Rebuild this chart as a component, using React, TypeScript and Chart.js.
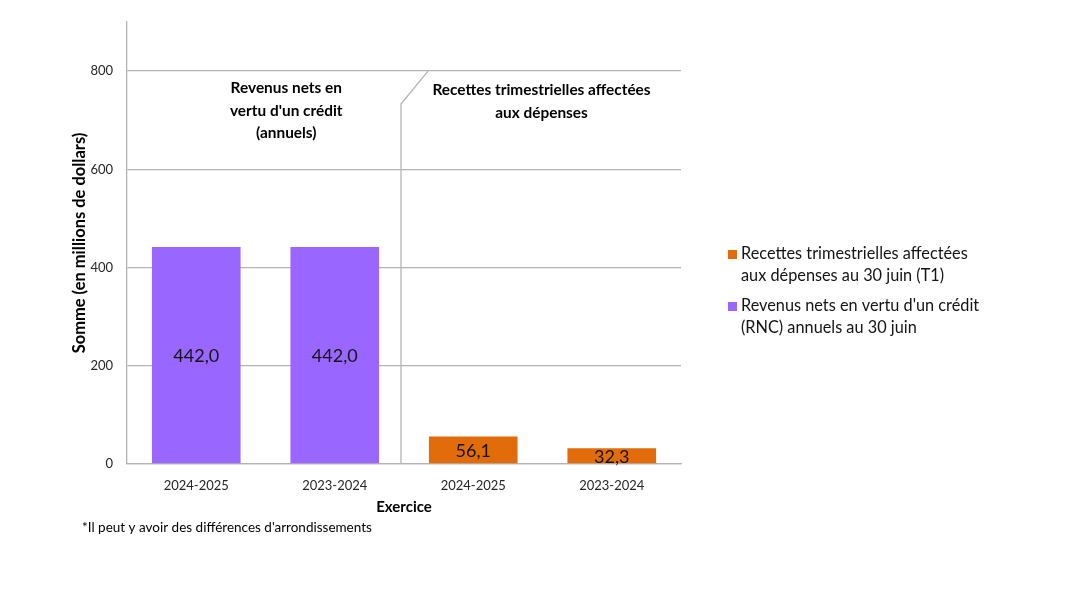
import React, { useEffect, useRef } from "react";
import { Chart, registerables } from "chart.js";

Chart.register(...registerables);

const categories = ["2024-2025", "2023-2024", "2024-2025", "2023-2024"];
const rncValues: (number | null)[] = [442.0, 442.0, null, null];
const recettesValues: (number | null)[] = [null, null, 56.1, 32.3];
const yMax = 900;
const yStep = 200;
const yLabelMax = 800;

const rncLabel = "Revenus nets en vertu d'un crédit (RNC) annuels au 30 juin";
const recettesLabel = "Recettes trimestrielles affectées aux dépenses au 30 juin (T1)";
const legendLines: string[][] = [
  ["Recettes trimestrielles affectées", "aux dépenses au 30 juin (T1)"],
  ["Revenus nets en vertu d'un crédit", "(RNC) annuels au 30 juin"],
];
const leftNote = ["Revenus nets en", "vertu d'un crédit", "(annuels)"];
const rightNote = ["Recettes trimestrielles affectées", "aux dépenses"];
const footnote = "*Il peut y avoir des différences d'arrondissements";

const PURPLE = "#9966ff";
const ORANGE = "#e36c0a";
const GRID = "#b4b4b4";
const FONT = "Lato, 'Open Sans', sans-serif";

const fmt = (v: number) => v.toFixed(1).replace(".", ",");

const overlay = {
  id: "overlay",
  afterDatasetsDraw(chart: any) {
    const ctx = chart.ctx;
    ctx.save();
    ctx.font = `18px ${FONT}`;
    ctx.fillStyle = "#141414";
    ctx.textAlign = "center";
    ctx.textBaseline = "middle";
    chart.data.datasets.forEach((ds: any, di: number) => {
      const meta = chart.getDatasetMeta(di);
      meta.data.forEach((bar: any, i: number) => {
        const v = ds.data[i];
        if (v == null) return;
        ctx.fillText(fmt(v), bar.x, (bar.y + bar.base) / 2 + 1);
      });
    });
    ctx.restore();
  },
  afterDraw(chart: any) {
    const ctx = chart.ctx;
    const x = chart.scales.x;
    const y = chart.scales.y;
    const area = chart.chartArea;
    ctx.save();
    // divider line
    const divX = (x.getPixelForValue(1) + x.getPixelForValue(2)) / 2 - 3;
    ctx.strokeStyle = GRID;
    ctx.lineWidth = 1.3;
    ctx.beginPath();
    ctx.moveTo(divX, y.getPixelForValue(0));
    ctx.lineTo(divX, y.getPixelForValue(733));
    ctx.lineTo(divX + 27, y.getPixelForValue(800));
    ctx.stroke();

    // annotations
    ctx.fillStyle = "#000";
    ctx.textAlign = "center";
    ctx.textBaseline = "middle";
    ctx.font = `bold 15.4px ${FONT}`;
    const leftCx = x.getPixelForValue(0) + (x.getPixelForValue(1) - x.getPixelForValue(0)) * 0.65;
    leftNote.forEach((t, i) => ctx.fillText(t, leftCx, y.getPixelForValue(800) + 17 + i * 22.5));
    const rightCx = (x.getPixelForValue(2) + x.getPixelForValue(3)) / 2 - 1;
    rightNote.forEach((t, i) => ctx.fillText(t, rightCx, y.getPixelForValue(800) + 19 + i * 22.5));

    // legend
    const colors = [ORANGE, PURPLE];
    ctx.textAlign = "left";
    ctx.font = `16.3px ${FONT}`;
    const lx = area.right + 47;
    const tops = [254, 306];
    legendLines.forEach((lines, k) => {
      ctx.fillStyle = colors[k];
      ctx.fillRect(lx, tops[k] - 4, 9, 9);
      ctx.fillStyle = "#141414";
      lines.forEach((t, i) => ctx.fillText(t, lx + 13, tops[k] + i * 22));
    });

    // footnote
    ctx.font = `13.5px ${FONT}`;
    ctx.fillStyle = "#000";
    ctx.fillText(footnote, 82, 528);
    ctx.restore();
  },
};

export default function App() {
  const ref = useRef<HTMLCanvasElement | null>(null);
  useEffect(() => {
    if (!ref.current) return;
    const chart = new Chart(ref.current, {
      type: "bar",
      data: {
        labels: categories,
        datasets: [
          { label: recettesLabel, data: recettesValues as any, backgroundColor: ORANGE, borderWidth: 0, barPercentage: 0.8, categoryPercentage: 0.8 },
          { label: rncLabel, data: rncValues as any, backgroundColor: PURPLE, borderWidth: 0, barPercentage: 0.8, categoryPercentage: 0.8 },
        ],
      },
      options: {
        responsive: false,
        animation: false,
        layout: { padding: { left: 0, right: 399, top: 22, bottom: 0 } },
        plugins: { legend: { display: false }, tooltip: { enabled: false } },
        scales: {
          x: {
            stacked: true,
            grid: { display: false, drawTicks: false },
            border: { display: true, color: GRID, width: 1.3 },
            ticks: { color: "#262626", font: { family: FONT, size: 13 }, padding: 14 },
            title: {
              display: true,
              text: "Exercice",
              color: "#000",
              font: { family: FONT, size: 15, weight: "bold" },
              padding: { top: 0, bottom: 95 },
            },
            afterFit: (s: any) => {
              s.height = 147;
            },
          },
          y: {
            stacked: true,
            min: 0,
            max: yMax,
            grid: { color: GRID, lineWidth: 1.3, drawTicks: false },
            border: { display: true, color: GRID, width: 1.3 },
            ticks: { stepSize: yStep, color: "#262626", font: { family: FONT, size: 13 }, padding: 14 },
            afterBuildTicks: (s: any) => {
              s.ticks = s.ticks.filter((t: any) => t.value <= yLabelMax);
            },
            title: {
              display: true,
              text: "Somme (en millions de dollars)",
              color: "#000",
              font: { family: FONT, size: 16.5, weight: "bold" },
              padding: { top: 70, bottom: 0 },
            },
            afterFit: (s: any) => {
              s.width = 127;
            },
          },
        },
      },
      plugins: [overlay],
    });
    return () => chart.destroy();
  }, []);
  return (
    <div style={{ position: "fixed", left: 0, top: 0, width: 1080, height: 611, background: "#fff" }}>
      <canvas ref={ref} width={1080} height={611} />
    </div>
  );
}
